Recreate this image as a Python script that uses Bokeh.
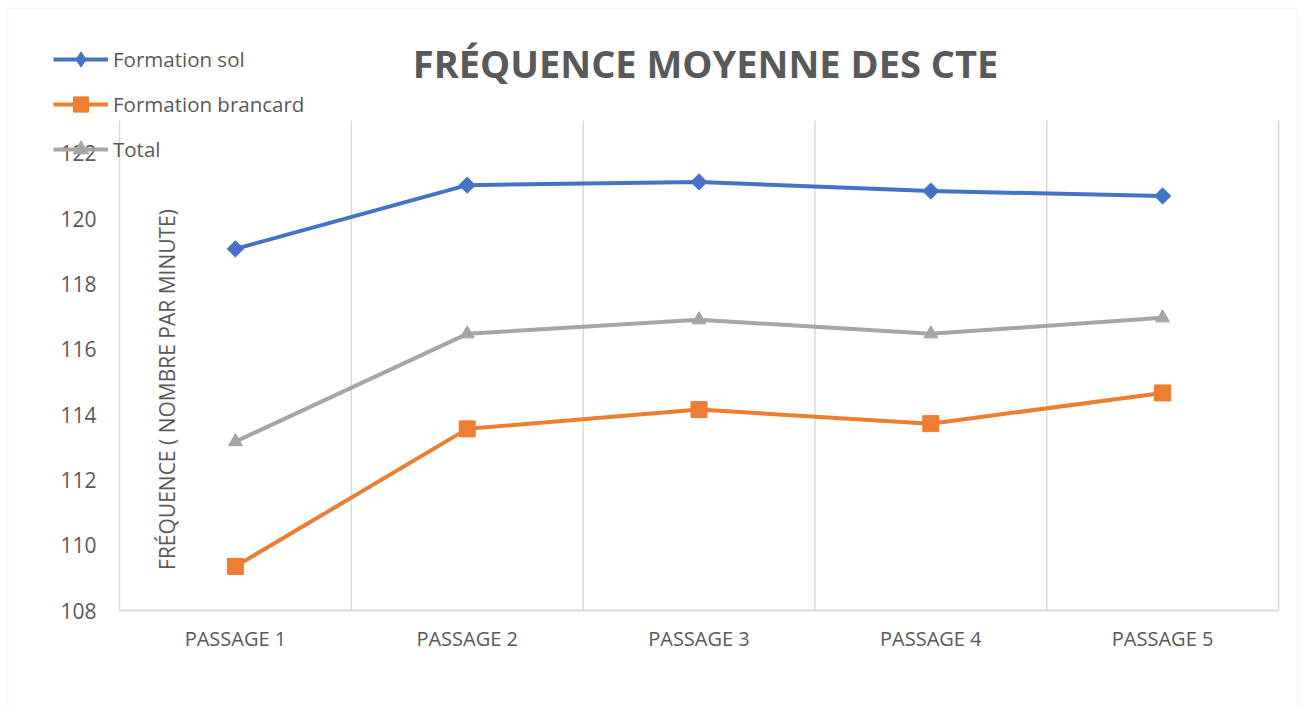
import math
from bokeh.plotting import figure
from bokeh.models import FixedTicker, Legend, LegendItem, Label, Range1d, BoxAnnotation
from bokeh.embed import file_html
from bokeh.resources import INLINE

categories = ["PASSAGE 1", "PASSAGE 2", "PASSAGE 3", "PASSAGE 4", "PASSAGE 5"]
formation_sol = [119.07, 121.02, 121.12, 120.84, 120.69]
formation_brancard = [109.35, 113.56, 114.15, 113.72, 114.66]
total = [113.17, 116.47, 116.90, 116.47, 116.96]
y_ticks = [108, 110, 112, 114, 116, 118, 120, 122]
y_min, y_max = 108, 123

FONT = "Open Sans"
TXT = "#595959"
GRID = "#D9D9D9"
BLUE, ORANGE, GRAY = "#4472C4", "#ED7D31", "#A5A5A5"

W, H = 1304, 706
# visual plot area in canvas pixels
PL, PR, PT, PB = 119, 1278, 120, 610

n = len(categories)
xs = list(range(1, n + 1))
x_lo, x_hi = 0.5, n + 0.5
kx = (PR - PL) / (x_hi - x_lo)
ky = (PB - PT) / (y_max - y_min)
x_range = Range1d(x_lo - PL / kx, x_hi + (W - PR) / kx)
y_range = Range1d(y_min - (H - PB) / ky, y_max + PT / ky)

p = figure(width=W, height=H, output_backend="svg", toolbar_location=None,
           title=None, x_range=x_range, y_range=y_range,
           min_border=0, min_border_left=0, min_border_right=0,
           min_border_top=0, min_border_bottom=0)
p.outline_line_color = None
p.background_fill_color = "white"
p.border_fill_color = "white"
p.xgrid.grid_line_color = None
p.ygrid.grid_line_color = None

# outer chart border
p.add_layout(BoxAnnotation(left=7, right=W - 7, top=H - 8, bottom=-10,
                           left_units="screen", right_units="screen",
                           top_units="screen", bottom_units="screen",
                           fill_alpha=0, line_color=GRID, line_width=1.3))

# axes
p.xaxis.fixed_location = y_min
p.xaxis.bounds = (x_lo, x_hi)
p.xaxis.ticker = FixedTicker(ticks=xs)
p.xaxis.major_label_overrides = {i: c for i, c in zip(xs, categories)}
p.xaxis.major_label_text_font = FONT
p.xaxis.major_label_text_font_size = "20px"
p.xaxis.major_label_text_color = TXT
p.xaxis.major_tick_line_color = None
p.xaxis.minor_tick_line_color = None
p.xaxis.axis_line_color = GRID
p.xaxis.axis_line_width = 2
p.xaxis.major_label_standoff = 8

p.yaxis.fixed_location = x_lo
p.yaxis.ticker = FixedTicker(ticks=y_ticks)
p.yaxis.major_label_text_font = FONT
p.yaxis.major_label_text_font_size = "21px"
p.yaxis.major_label_text_color = TXT
p.yaxis.major_tick_line_color = None
p.yaxis.minor_tick_line_color = None
p.yaxis.axis_line_color = None
p.yaxis.major_label_standoff = 17

# vertical category separators
bounds = [x - 0.5 for x in xs] + [n + 0.5]
p.segment(x0=bounds, x1=bounds, y0=[y_min] * len(bounds), y1=[y_max] * len(bounds),
          line_color=GRID, line_width=1.5)

# series
l1 = p.line(xs, formation_sol, line_color=BLUE, line_width=4)
# diamond (hidden under the rotated squares) gives the legend its diamond shape
m1_leg = p.scatter(xs, formation_sol, marker="diamond", size=14,
                   fill_color=BLUE, line_color=BLUE)
m1 = p.scatter(xs, formation_sol, marker="square", angle=math.pi / 4, size=11.5,
               fill_color=BLUE, line_color=BLUE)
l2 = p.line(xs, formation_brancard, line_color=ORANGE, line_width=4)
m2 = p.scatter(xs, formation_brancard, marker="square", size=16,
               fill_color=ORANGE, line_color=ORANGE)
l3 = p.line(xs, total, line_color=GRAY, line_width=4)
m3 = p.scatter(xs, total, marker="triangle", size=14,
               fill_color=GRAY, line_color=GRAY)

legend = Legend(items=[
    LegendItem(label="Formation sol", renderers=[l1, m1_leg]),
    LegendItem(label="Formation brancard", renderers=[l2, m2]),
    LegendItem(label="Total", renderers=[l3, m3]),
], location=(53, H - 168))
legend.background_fill_alpha = 0
legend.border_line_color = None
legend.label_text_font = FONT
legend.label_text_font_size = "20.5px"
legend.label_text_color = TXT
legend.glyph_width = 55
legend.glyph_height = 38
legend.label_height = 38
legend.label_standoff = 5
legend.spacing = 7
legend.padding = 0
legend.margin = 0
p.add_layout(legend)

title = Label(x=705, y=H - 62, x_units="screen", y_units="screen",
              text="FRÉQUENCE MOYENNE DES CTE", text_align="center",
              text_baseline="middle", text_font=FONT, text_font_style="bold",
              text_font_size="38px", text_color=TXT)
p.add_layout(title)

ylab = Label(x=166, y=H - 389, x_units="screen", y_units="screen",
             text="FRÉQUENCE ( NOMBRE PAR MINUTE)", angle=math.pi / 2,
             text_align="center", text_baseline="middle",
             text_font=FONT, text_font_size="21px", text_color=TXT)
p.add_layout(ylab)

open("out.html", "w").write(file_html(p, INLINE))
